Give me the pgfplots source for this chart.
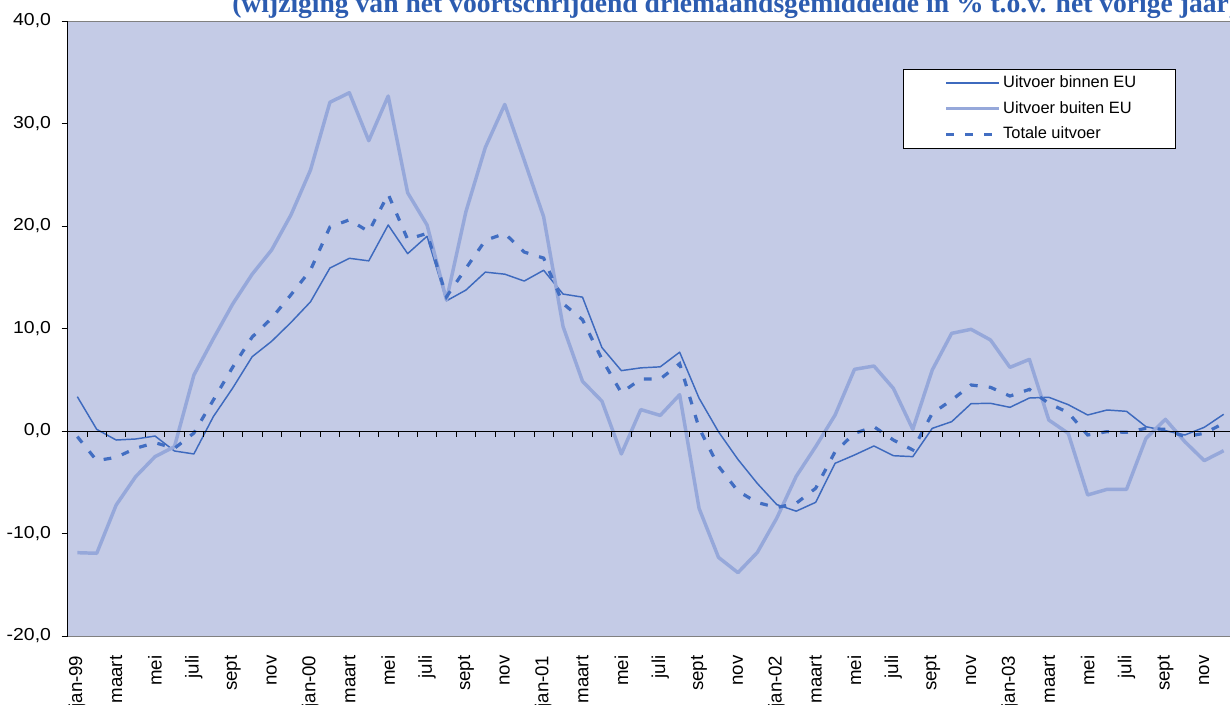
\documentclass[border=0pt]{standalone}
\usepackage{pgfplots}
\pgfplotsset{compat=1.18}
\usepackage{fontspec}
\setmainfont{Liberation Sans}
\newfontfamily\titlefont{Liberation Serif}
\definecolor{bgc}{RGB}{196,203,230}
\definecolor{binc}{RGB}{62,106,190}
\definecolor{buic}{RGB}{150,168,218}
\definecolor{totc}{RGB}{66,110,194}
\definecolor{titc}{RGB}{44,92,176}
\pgfplotstableread{
i binnen buiten totale
0 3.35 -11.87 -0.55
1 0.16 -11.93 -2.89
2 -0.88 -7.22 -2.57
3 -0.78 -4.46 -1.69
4 -0.49 -2.50 -1.14
5 -1.95 -1.53 -1.69
6 -2.24 5.46 -0.20
7 1.40 9.00 3.02
8 4.20 12.40 6.24
9 7.25 15.30 9.17
10 8.75 17.66 11.00
11 10.60 21.10 13.30
12 12.60 25.46 15.70
13 15.90 32.07 19.90
14 16.85 33.00 20.60
15 16.60 28.32 19.45
16 20.10 32.68 23.10
17 17.30 23.25 18.70
18 19.00 20.10 19.28
19 12.70 12.78 13.10
20 13.75 21.40 15.87
21 15.50 27.67 18.60
22 15.30 31.86 19.27
23 14.63 26.43 17.46
24 15.68 20.90 16.87
25 13.36 10.19 12.43
26 13.06 4.85 10.86
27 8.14 2.91 7.01
28 5.89 -2.24 3.73
29 6.16 2.09 5.07
30 6.26 1.52 5.07
31 7.69 3.54 6.57
32 3.20 -7.55 0.29
33 -0.08 -12.33 -3.44
34 -2.77 -13.82 -5.87
35 -5.12 -11.84 -6.98
36 -7.18 -8.49 -7.47
37 -7.82 -4.42 -7.05
38 -6.96 -1.53 -5.59
39 -3.15 1.56 -2.02
40 -2.34 6.02 -0.23
41 -1.46 6.34 0.42
42 -2.41 4.16 -0.88
43 -2.50 0.16 -1.85
44 0.26 5.95 1.72
45 0.91 9.53 3.02
46 2.67 9.92 4.49
47 2.70 8.88 4.26
48 2.31 6.21 3.41
49 3.22 6.99 4.06
50 3.29 1.07 2.70
51 2.57 -0.23 1.79
52 1.56 -6.24 -0.39
53 2.05 -5.69 -0.06
54 1.92 -5.69 -0.13
55 0.42 -0.72 0.26
56 0.03 1.14 0.16
57 -0.39 -1.04 -0.55
58 0.36 -2.89 -0.23
59 1.63 -1.92 0.75
}\datatable
\begin{document}
\begin{tikzpicture}
\begin{axis}[
  name=ax,
  at={(0,0)}, anchor=south west,
  scale only axis,
  width=874.35pt, height=461.25pt,
  xmin=-0.5, xmax=59.5,
  ymin=-20, ymax=40,
  axis background/.style={fill=bgc},
  axis line style={draw=none},
  ytick={-20,-10,0,10,20,30,40},
  /pgf/number format/fixed,
  /pgf/number format/fixed zerofill,
  /pgf/number format/precision=1,
  /pgf/number format/use comma,
  /pgf/number format/assume math mode=true,
  yticklabel style={font=\fontsize{13}{15}\selectfont, inner sep=0pt, xshift=-7.75pt, xscale=1.12},
  tick align=outside,
  major tick length=4.5pt,
  ytick style={black, line width=0.6pt},
  xtick={0,2,...,58},
  xticklabels={jan-99,maart,mei,juli,sept,nov,jan-00,maart,mei,juli,sept,nov,jan-01,maart,mei,juli,sept,nov,jan-02,maart,mei,juli,sept,nov,jan-03,maart,mei,juli,sept,nov},
  xtick style={draw=none},
  xticklabel style={rotate=90, anchor=east, inner sep=0pt, xshift=-10pt, font=\fontsize{14}{16}\selectfont},
  clip=false,
  legend style={at={(0.7163,0.922)}, anchor=north west, draw=black, fill=white, line width=0.6pt,
    font=\fontsize{12.3}{14}\selectfont, inner xsep=0pt, inner ysep=4.5pt, row sep=7.75pt,
    nodes={inner xsep=1.5pt, inner ysep=0pt, text height=9pt, text depth=2.5pt}},
  legend cell align=left,
  legend image code/.code={\path (-31pt,0pt); \draw[#1] (0pt,0pt) -- (40pt,0pt);},
]
\addplot[binc, line width=1.1pt, line join=round] table[x=i, y=binnen] {\datatable};
\addlegendentry{\makebox[128pt][l]{Uitvoer binnen EU}}
\addplot[buic, line width=2.6pt, line join=round] table[x=i, y=buiten] {\datatable};
\addlegendentry{Uitvoer buiten EU}
\addplot[totc, line width=2.4pt, dash pattern=on 5.8pt off 8.4pt] table[x=i, y=totale] {\datatable};
\addlegendentry{Totale uitvoer}
\end{axis}
\draw[gray, line width=0.7pt] (ax.north west) -- (ax.north east);
\draw[gray, line width=0.7pt] (ax.south west) -- (ax.south east);
\draw[black, line width=0.7pt] (ax.south west) -- (ax.north west);
\draw[black, line width=0.6pt] (0pt,153.75pt) -- (874.35pt,153.75pt);
\foreach \k in {0,...,60} \draw[black, line width=0.6pt] (\k*14.5725pt,153.75pt) -- ++(0,-4.5pt);
\node[anchor=base west, inner sep=0pt, text=titc, font=\titlefont\bfseries\fontsize{20.7}{24}\selectfont] at (123.3pt,467.25pt) {(wijziging van het voortschrijdend driemaandsgemiddelde in \% t.o.v. het vorige jaar)};
\pgfresetboundingbox
\path[use as bounding box] (-50.7pt,-51pt) rectangle (871.8pt,477pt);
\end{tikzpicture}
\end{document}
